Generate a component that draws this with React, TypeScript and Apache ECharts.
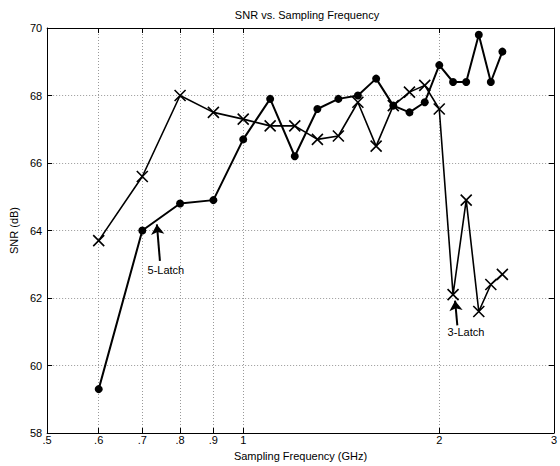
import React, { useEffect, useRef } from "react";
import * as echarts from "echarts";

const freqs = [0.6, 0.7, 0.8, 0.9, 1.0, 1.1, 1.2, 1.3, 1.4, 1.5, 1.6, 1.7, 1.8, 1.9, 2.0, 2.1, 2.2, 2.3, 2.4, 2.5];
const snrDots = [59.3, 64.0, 64.8, 64.9, 66.7, 67.9, 66.2, 67.6, 67.9, 68.0, 68.5, 67.7, 67.5, 67.8, 68.9, 68.4, 68.4, 69.8, 68.4, 69.3];
const snrCross = [63.7, 65.6, 68.0, 67.5, 67.3, 67.1, 67.1, 66.7, 66.8, 67.8, 66.5, 67.7, 68.1, 68.3, 67.6, 62.1, 64.9, 61.6, 62.4, 62.7];

const xTickValues = [0.5, 0.6, 0.7, 0.8, 0.9, 1, 2, 3];
const xTickLabels = [".5", ".6", ".7", ".8", ".9", "1", "2", "3"];

const annotationTexts = ["5-Latch", "3-Latch"];
const annotationTextPos = [[0.713, 62.82], [2.06, 60.99]];
const arrowTails = [[0.745, 63.1], [2.132, 61.19]];
const arrowTips = [[0.737, 64.18], [2.115, 61.92]];

const FONT = "Liberation Sans, Arial, Helvetica, sans-serif";

export default function App() {
  const ref = useRef<HTMLDivElement>(null);
  useEffect(() => {
    if (!ref.current) return;
    const chart = echarts.init(ref.current, null, { renderer: "svg" });
    const fmtX = (v: number) => {
      const i = xTickValues.findIndex((t) => Math.abs(t - v) < 1e-6);
      return i >= 0 ? xTickLabels[i] : "";
    };
    const tickStyle = { lineStyle: { color: "#000", width: 1 } };
    chart.setOption({
      animation: false,
      backgroundColor: "#fff",
      title: {
        text: "SNR vs. Sampling Frequency",
        left: 302,
        top: 4,
        textAlign: "center",
        textStyle: { fontFamily: FONT, fontSize: 11, fontWeight: "normal", color: "#000" },
      },
      grid: { left: 45, right: 2, top: 28, bottom: 33 },
      xAxis: [
        {
          type: "log",
          logBase: 10,
          min: 0.5,
          max: 3,
          name: "Sampling Frequency (GHz)",
          nameLocation: "middle",
          nameGap: 17,
          nameTextStyle: { fontFamily: FONT, fontSize: 11, color: "#000" },
          axisLine: { show: true, lineStyle: { color: "#000", width: 1 } },
          axisTick: { show: true, inside: true, length: 5, customValues: xTickValues, ...tickStyle },
          axisLabel: {
            show: true,
            customValues: xTickValues,
            formatter: fmtX,
            margin: 1,
            fontFamily: FONT,
            fontSize: 11,
            color: "#000",
          },
          minorTick: { show: false },
          splitLine: { show: true, lineStyle: { color: "#999", type: [1, 2], width: 1 } },
        },
        {
          type: "log",
          logBase: 10,
          min: 0.5,
          max: 3,
          position: "top",
          axisLine: { show: true, lineStyle: { color: "#000", width: 1 } },
          axisTick: { show: true, inside: true, length: 5, customValues: xTickValues, ...tickStyle },
          axisLabel: { show: false },
          splitLine: { show: false },
        },
      ],
      yAxis: [
        {
          type: "value",
          min: 58,
          max: 70,
          interval: 2,
          name: "SNR (dB)",
          nameLocation: "middle",
          nameGap: 22,
          nameTextStyle: { fontFamily: FONT, fontSize: 11, color: "#000" },
          axisLine: { show: true, lineStyle: { color: "#000", width: 1 } },
          axisTick: { show: true, inside: true, length: 5, ...tickStyle },
          axisLabel: { margin: 5, fontFamily: FONT, fontSize: 11, color: "#000" },
          splitLine: { show: true, lineStyle: { color: "#999", type: [1, 2], width: 1 } },
        },
        {
          type: "value",
          min: 58,
          max: 70,
          interval: 2,
          position: "right",
          axisLine: { show: true, lineStyle: { color: "#000", width: 1 } },
          axisTick: { show: true, inside: true, length: 5, ...tickStyle },
          axisLabel: { show: false },
          splitLine: { show: false },
        },
      ],
      series: [
        {
          type: "line",
          data: freqs.map((f, i) => [f, snrDots[i]]),
          symbol: "circle",
          symbolSize: 8,
          showAllSymbol: true,
          lineStyle: { color: "#000", width: 2 },
          itemStyle: { color: "#000" },
          z: 3,
        },
        {
          type: "line",
          data: freqs.map((f, i) => [f, snrCross[i]]),
          symbol: "path://M0,0L10,10M0,10L10,0",
          symbolSize: 11,
          showAllSymbol: true,
          lineStyle: { color: "#000", width: 1.6 },
          itemStyle: { color: "#000", borderColor: "#000", borderWidth: 1.6 },
          z: 3,
          markLine: {
            silent: true,
            symbol: ["none", "arrow"],
            symbolSize: 10,
            label: { show: false },
            lineStyle: { color: "#000", width: 2, type: "solid" },
            data: arrowTails.map((t, i) => [{ coord: t }, { coord: arrowTips[i] }]),
          },
        },
        {
          type: "scatter",
          symbolSize: 0,
          itemStyle: { color: "#000", opacity: 1 },
          data: annotationTextPos.map((p, i) => ({ value: p, name: annotationTexts[i] })),
          label: {
            show: true,
            position: "right",
            distance: 0,
            formatter: "{b}",
            fontFamily: FONT,
            fontSize: 11,
            color: "#000",
            textBorderWidth: 0,
          },
          silent: true,
        },
      ],
    });
    return () => chart.dispose();
  }, []);
  return (
    <div
      ref={ref}
      style={{ position: "fixed", left: 0, top: 0, width: 560, height: 466, background: "#fff" }}
    />
  );
}
